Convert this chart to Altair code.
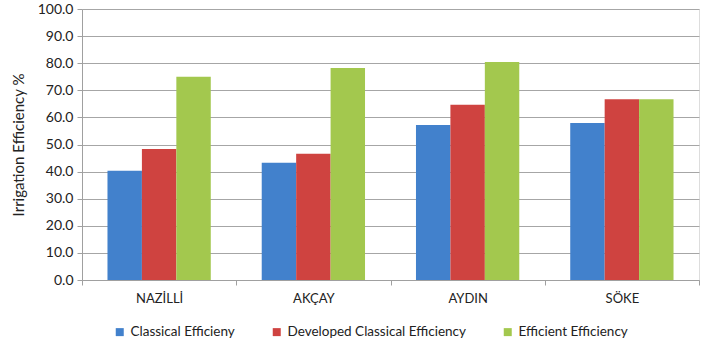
import altair as alt
import pandas as pd

categories = ["NAZİLLİ", "AKÇAY", "AYDIN", "SÖKE"]
series = ["Classical Efficieny", "Developed Classical Efficiency", "Efficient Efficiency"]
classical = [40.3, 43.3, 57.2, 57.9]
developed = [48.3, 46.6, 64.7, 66.7]
efficient = [75.0, 78.2, 80.4, 66.7]
colors = ["#4281CC", "#CF4340", "#A3C84E"]
y_ticks = [0, 10, 20, 30, 40, 50, 60, 70, 80, 90, 100]

rows = []
for name, vals in zip(series, [classical, developed, efficient]):
    for c, v in zip(categories, vals):
        rows.append({"site": c, "series": name, "value": v})
df = pd.DataFrame(rows)

FONT = "Lato"

chart = alt.Chart(df).mark_bar(stroke=None).encode(
    x=alt.X("site:N", sort=categories, title=None,
            scale=alt.Scale(paddingInner=0, paddingOuter=0),
            axis=alt.Axis(labelAngle=0, tickBand="extent", ticks=True, tickSize=5,
                          tickColor="#A0A0A0", domainColor="#A0A0A0",
                          labelFont=FONT, labelFontSize=13, labelColor="#222222",
                          labelPadding=7, grid=False)),
    xOffset=alt.XOffset("series:N", sort=series,
                        scale=alt.Scale(paddingOuter=0.74, paddingInner=0)),
    y=alt.Y("value:Q", title="Irrigation Efficiency %",
            scale=alt.Scale(domain=[0, 100], nice=False),
            axis=alt.Axis(values=y_ticks, format=".1f", tickSize=5,
                          tickColor="#A0A0A0", domainColor="#A0A0A0",
                          gridColor="#A6A6A6", grid=True,
                          labelFont=FONT, labelFontSize=14, labelColor="#222222",
                          labelPadding=4,
                          titleFont=FONT, titleFontSize=15, titleFontWeight="normal",
                          titleColor="#222222", titleX=-64, titleY=135.5,
                          titleAngle=270, titleAlign="center", titleBaseline="middle")),
    color=alt.Color("series:N", sort=series,
                    scale=alt.Scale(domain=series, range=colors),
                    legend=alt.Legend(title=None, orient="none", direction="horizontal",
                                      legendX=31, legendY=316, symbolType="square",
                                      symbolSize=64, symbolStrokeWidth=0,
                                      labelFont=FONT, labelFontSize=13.5, labelLimit=400,
                                      labelColor="#222222", labelOffset=4,
                                      columnPadding=35)),
).properties(
    width=617, height=271,
    autosize=alt.AutoSizeParams(type="none"),
    padding={"left": 82, "top": 9, "right": 5, "bottom": 64},
).configure_view(stroke="#808080", strokeWidth=1).configure(background="white")

chart.save("out.html", embed_options={"renderer": "svg", "actions": False})
